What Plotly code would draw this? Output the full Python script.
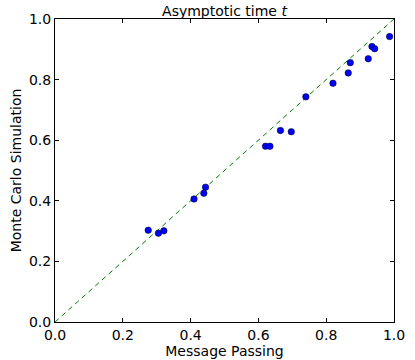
import plotly.graph_objects as go

# message passing estimate vs monte carlo estimate
mp = [0.275, 0.305, 0.321, 0.410, 0.439, 0.444, 0.621, 0.634, 0.665, 0.697,
      0.740, 0.820, 0.865, 0.871, 0.924, 0.935, 0.943, 0.987]
mc = [0.303, 0.293, 0.301, 0.406, 0.425, 0.445, 0.580, 0.580, 0.632, 0.628,
      0.743, 0.788, 0.822, 0.856, 0.869, 0.909, 0.902, 0.942]
diag = [0.0, 1.0]

FONT = "DejaVu Sans"

fig = go.Figure()
fig.add_trace(go.Scatter(x=diag, y=diag, mode="lines",
                         line=dict(color="rgb(0,128,0)", width=1, dash="5px,4px"),
                         hoverinfo="skip"))
fig.add_trace(go.Scatter(x=mp, y=mc, mode="markers",
                         marker=dict(color="rgb(0,0,255)", size=6.5,
                                     line=dict(color="black", width=0.5))))

axis = dict(range=[0, 1], tickvals=[0, 0.2, 0.4, 0.6, 0.8, 1.0], tickformat=".1f",
            showgrid=False, zeroline=False, showline=True, linecolor="black", linewidth=1,
            mirror="ticks", ticks="inside", ticklen=4, tickcolor="black", automargin=False,
            tickfont=dict(family=FONT, size=14, color="black"))

fig.update_xaxes(**axis, title=dict(text="Message Passing", standoff=0,
                                    font=dict(family=FONT, size=14, color="black")))
fig.update_yaxes(**axis, title=dict(text="Monte Carlo Simulation", standoff=4,
                                    font=dict(family=FONT, size=14, color="black")))

fig.update_layout(
    width=415, height=360,
    margin=dict(l=55, r=21, t=19, b=38),
    showlegend=False,
    paper_bgcolor="white", plot_bgcolor="white",
    title=dict(text="Asymptotic time <i>t</i>", x=0.5, xanchor="center",
               xref="paper", yref="container", y=0.97, yanchor="middle",
               font=dict(family=FONT, size=14, color="black")),
)

# page body has a default 8px margin, drop it so the figure sits at the corner
fig.write_html("out.html", config={"displayModeBar": False},
               post_script="document.body.style.margin='0';")
